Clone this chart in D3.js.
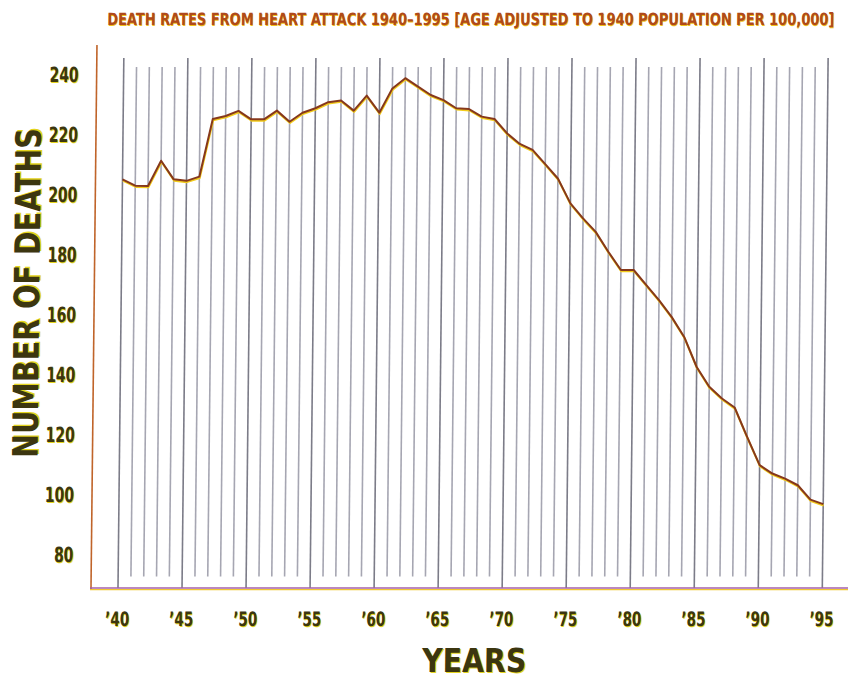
<!DOCTYPE html>
<html>
<head>
<meta charset="utf-8">
<script src="https://cdn.jsdelivr.net/npm/d3@7"></script>
<style>
  html, body { margin: 0; padding: 0; background: #ffffff; }
  svg { display: block; }
  .cond { font-family: "Liberation Sans Narrow", "DejaVu Sans Condensed", "Arial Narrow", sans-serif; font-weight: bold; }
</style>
</head>
<body>
<svg id="chart" width="855" height="680"></svg>
<script>
// Death rates from heart attack, age adjusted, per 100,000
const years = d3.range(1940, 1996);
const deathRates = [
  204.8, 202.7, 202.6, 211.0, 204.8, 204.3, 205.7, 224.9, 225.9, 227.6,
  224.8, 224.8, 227.7, 224.0, 227.0, 228.5, 230.5, 231.1, 227.7, 232.7,
  227.0, 235.1, 238.5, 235.7, 232.9, 231.2, 228.5, 228.2, 225.7, 224.9,
  220.1, 216.6, 214.6, 209.9, 205.1, 196.8, 191.8, 187.3, 180.7, 174.6,
  174.6, 169.6, 164.6, 159.0, 152.3, 142.3, 135.7, 131.8, 128.8, 119.0,
  109.6, 106.8, 105.1, 102.9, 98.1, 96.6
];
const yTicks = [80, 100, 120, 140, 160, 180, 200, 220, 240];
const xTickYears = [1940, 1945, 1950, 1955, 1960, 1965, 1970, 1975, 1980, 1985, 1990, 1995];

const titleText = "DEATH RATES FROM HEART ATTACK 1940\u20131995 [AGE ADJUSTED TO 1940 POPULATION PER 100,000]";
const yTitle = "NUMBER OF DEATHS";
const xTitle = "YEARS";

const svg = d3.select("#chart");
const baseY = 588;

// the printed page leans slightly: everything is sheared about the baseline
const root = svg.append("g")
  .attr("transform", `translate(0,${baseY}) skewX(-0.63) translate(0,${-baseY})`);

const x = d3.scaleLinear().domain([1940, 1995]).range([118, 822.3]);
const y = d3.scaleLinear().domain([80, 240]).range([554, 73.7]);

const olive = "#3c3610", glow = "#e4d41e";

// Draws a label with a yellow drop shadow, squeezed horizontally to a set width.
// anchor: 0 = start, 0.5 = middle, 1 = end
function label(parent, str, opts) {
  const outer = parent.append("g").attr("transform", opts.place);
  const inner = outer.append("g").attr("class", "cond")
    .attr("font-size", opts.size).attr("text-anchor", "start");
  inner.append("text").attr("fill", opts.shadow || glow)
    .attr("x", opts.dx).attr("y", opts.dy).text(str);
  const main = inner.append("text").attr("fill", opts.fill || olive)
    .attr("x", 0).attr("y", 0).text(str);
  const w = main.node().getComputedTextLength();
  const s = opts.width / w;
  inner.attr("transform", `scale(${s},1) translate(${-w * opts.anchor},0)`);
  return outer;
}

// title
label(root, titleText, {
  place: "translate(101,25)", size: 17, width: 728, anchor: 0,
  fill: "#b04a1a", shadow: "#f0c21a", dx: 0.8, dy: 1.1
});

// vertical grid: one line per year, every fifth year taller and darker
root.append("g").selectAll("line")
  .data(years)
  .join("line")
  .attr("x1", d => x(d)).attr("x2", d => x(d))
  .attr("y1", d => d % 5 === 0 ? 58 : 67)
  .attr("y2", d => d % 5 === 0 ? baseY : 576.5)
  .attr("stroke", d => d % 5 === 0 ? "#7c7c88" : "#a6a6b2")
  .attr("stroke-width", 1.6);

// axes frame
root.append("line")
  .attr("x1", 91).attr("x2", 91).attr("y1", 45).attr("y2", baseY + 1)
  .attr("stroke", "#c0642a").attr("stroke-width", 1.6);
root.append("line")
  .attr("x1", 90).attr("x2", 848).attr("y1", baseY + 1.6).attr("y2", baseY + 1.6)
  .attr("stroke", "#f0c830").attr("stroke-width", 1.4);
root.append("line")
  .attr("x1", 90).attr("x2", 848).attr("y1", baseY).attr("y2", baseY)
  .attr("stroke", "#a560a8").attr("stroke-width", 1.5);

// y tick labels
const yAxis = d3.axisLeft(y).tickValues(yTicks).tickSize(0).tickPadding(0);
const yg = root.append("g").attr("transform", "translate(73,0)").call(yAxis);
yg.select(".domain").remove();
yg.selectAll(".tick text").remove();
yg.selectAll(".tick").each(function(d) {
  const s = String(d);
  label(d3.select(this), s, {
    place: "translate(0,7.6)", size: 21, width: s.length * 9.7, anchor: 1,
    dx: 1.2, dy: 1.2
  });
});

// x tick labels
const xAxis = d3.axisBottom(x).tickValues(xTickYears).tickSize(0).tickPadding(0);
const xg = root.append("g").attr("transform", `translate(-1,${baseY})`).call(xAxis);
xg.select(".domain").remove();
xg.selectAll(".tick text").remove();
xg.selectAll(".tick").each(function(d) {
  label(d3.select(this), "\u2019" + String(d).slice(2), {
    place: "translate(0,38)", size: 20, width: 24, anchor: 0.5,
    dx: 1.2, dy: 1.2
  });
});

// axis titles
label(root, yTitle, {
  place: "translate(36,293) rotate(-90)", size: 35, width: 330, anchor: 0.5,
  dx: 1.5, dy: 1.5
});
label(root, xTitle, {
  place: "translate(475,672)", size: 33, width: 104, anchor: 0.5,
  dx: 1.3, dy: 1.2
});

// the rate line, with a yellow under-edge
const line = d3.line().x((d, i) => x(years[i])).y(d => y(d));
root.append("path")
  .datum(deathRates)
  .attr("d", line)
  .attr("transform", "translate(0.4,1.3)")
  .attr("fill", "none").attr("stroke", "#f2cc1c").attr("stroke-width", 2)
  .attr("stroke-linejoin", "round");
root.append("path")
  .datum(deathRates)
  .attr("d", line)
  .attr("fill", "none").attr("stroke", "#86381c").attr("stroke-width", 2)
  .attr("stroke-linejoin", "round");
</script>
</body>
</html>
